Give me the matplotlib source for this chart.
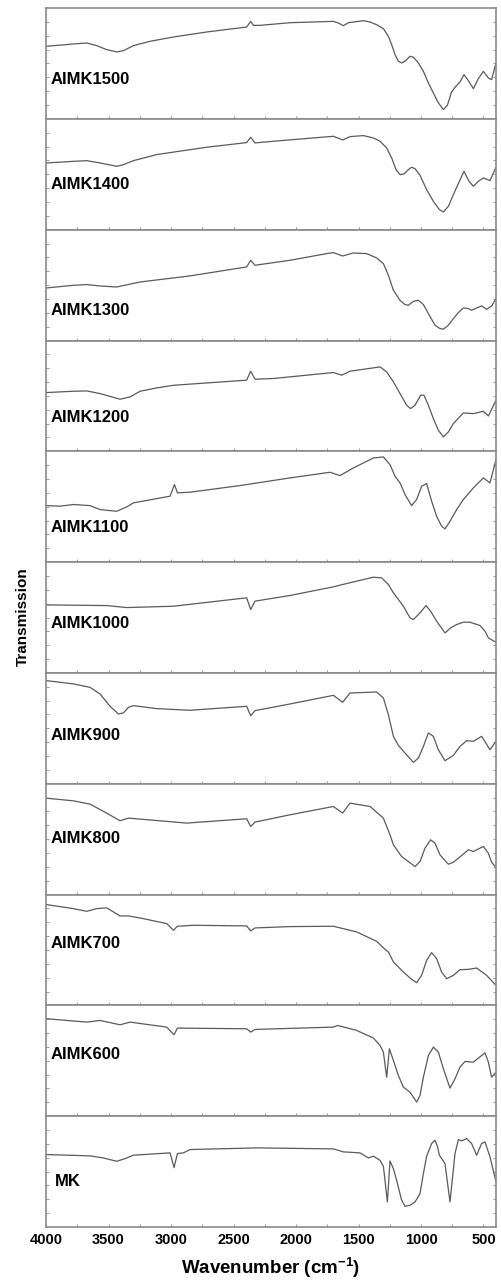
import matplotlib.pyplot as plt
from matplotlib.ticker import MultipleLocator, NullFormatter
import numpy as np

plt.rcParams['font.family'] = ['Liberation Sans', 'DejaVu Sans']
plt.rcParams['mathtext.fontset'] = 'custom'
plt.rcParams['mathtext.bf'] = 'Liberation Sans:bold'
plt.rcParams['mathtext.rm'] = 'Liberation Sans'

# Sample labels, top to bottom
samples = ['AIMK1500', 'AIMK1400', 'AIMK1300', 'AIMK1200', 'AIMK1100', 'AIMK1000',
           'AIMK900', 'AIMK800', 'AIMK700', 'AIMK600', 'MK']

# Spectra: wavenumber (cm-1) and transmission (panel units 0..1)
wn_1500 = [4000, 3781, 3675, 3595, 3515, 3435, 3381, 3301, 3168, 2981, 2715, 2395, 2363, 2341, 2288,
           2048, 1701, 1661, 1621, 1581, 1461, 1408, 1355, 1301, 1261, 1235, 1208, 1181, 1155, 1128,
           1088, 1061, 1021, 981, 941, 901, 861, 821, 789, 755, 728, 688, 656, 621, 581, 541, 501,
           461, 435, 400]
t_1500 = [0.655, 0.676, 0.685, 0.661, 0.625, 0.604, 0.616, 0.661, 0.700, 0.739, 0.784, 0.829, 0.880,
          0.844, 0.844, 0.868, 0.880, 0.865, 0.841, 0.868, 0.886, 0.874, 0.850, 0.814, 0.745, 0.670,
          0.580, 0.520, 0.505, 0.520, 0.565, 0.556, 0.505, 0.429, 0.324, 0.234, 0.144, 0.084, 0.123,
          0.243, 0.285, 0.333, 0.399, 0.345, 0.273, 0.363, 0.429, 0.369, 0.354, 0.505]

wn_1400 = [4000, 3781, 3675, 3568, 3435, 3381, 3301, 3115, 2715, 2395, 2363, 2328, 2181, 1701, 1627,
           1568, 1461, 1381, 1328, 1275, 1235, 1200, 1168, 1136, 1101, 1075, 1048, 1008, 955, 901,
           853, 821, 781, 741, 693, 656, 616, 581, 541, 501, 448, 400]
t_1400 = [0.602, 0.617, 0.623, 0.602, 0.572, 0.587, 0.623, 0.678, 0.744, 0.786, 0.834, 0.783, 0.798,
          0.843, 0.810, 0.840, 0.849, 0.828, 0.798, 0.738, 0.648, 0.542, 0.497, 0.503, 0.542, 0.563,
          0.551, 0.491, 0.361, 0.256, 0.181, 0.160, 0.211, 0.316, 0.437, 0.527, 0.437, 0.392, 0.437,
          0.467, 0.443, 0.563]

wn_1300 = [4000, 3781, 3675, 3568, 3435, 3248, 2848, 2395, 2363, 2328, 2048, 1755, 1701, 1627, 1541,
           1435, 1355, 1301, 1261, 1221, 1168, 1128, 1101, 1061, 1021, 981, 941, 888, 848, 821, 781,
           741, 701, 661, 621, 595, 555, 515, 475, 435, 400]
t_1300 = [0.474, 0.498, 0.505, 0.492, 0.483, 0.528, 0.583, 0.664, 0.724, 0.679, 0.724, 0.784, 0.793,
          0.763, 0.790, 0.784, 0.745, 0.694, 0.589, 0.453, 0.363, 0.324, 0.318, 0.354, 0.363, 0.324,
          0.243, 0.138, 0.108, 0.102, 0.138, 0.198, 0.252, 0.294, 0.288, 0.273, 0.294, 0.312, 0.282,
          0.312, 0.378]

wn_1200 = [4000, 3781, 3675, 3568, 3408, 3328, 3248, 3115, 2981, 2395, 2363, 2328, 2181, 1701, 1635,
           1568, 1381, 1328, 1275, 1221, 1168, 1115, 1083, 1048, 1003, 976, 941, 901, 861, 821, 781,
           741, 661, 581, 501, 461, 400]
t_1200 = [0.530, 0.542, 0.545, 0.521, 0.470, 0.491, 0.542, 0.572, 0.596, 0.642, 0.723, 0.651, 0.657,
          0.711, 0.687, 0.723, 0.753, 0.762, 0.717, 0.627, 0.521, 0.416, 0.386, 0.416, 0.506, 0.506,
          0.416, 0.295, 0.190, 0.130, 0.175, 0.250, 0.346, 0.340, 0.361, 0.319, 0.461]

wn_1100 = [4000, 3888, 3781, 3648, 3568, 3435, 3355, 3301, 3008, 2973, 2949, 2848, 2448, 2048, 1728,
           1648, 1541, 1381, 1301, 1248, 1208, 1168, 1128, 1075, 1035, 995, 955, 915, 875, 835, 808,
           768, 715, 661, 581, 501, 448, 400]
t_1100 = [0.510, 0.505, 0.520, 0.510, 0.474, 0.459, 0.498, 0.535, 0.595, 0.700, 0.625, 0.631, 0.691,
          0.760, 0.811, 0.781, 0.850, 0.940, 0.949, 0.880, 0.775, 0.715, 0.610, 0.510, 0.565, 0.685,
          0.709, 0.550, 0.414, 0.324, 0.300, 0.369, 0.474, 0.565, 0.670, 0.760, 0.715, 0.925]

wn_1000 = [4000, 3515, 3355, 2981, 2395, 2363, 2328, 2048, 1701, 1595, 1381, 1315, 1261, 1221, 1181,
           1141, 1088, 1061, 1008, 960, 923, 875, 808, 763, 715, 661, 608, 528, 488, 461, 400]
t_1000 = [0.614, 0.608, 0.590, 0.602, 0.678, 0.572, 0.648, 0.699, 0.777, 0.807, 0.864, 0.858, 0.798,
          0.723, 0.663, 0.602, 0.497, 0.482, 0.542, 0.608, 0.557, 0.467, 0.361, 0.407, 0.437, 0.458,
          0.458, 0.428, 0.377, 0.316, 0.277]

wn_900 = [4000, 3781, 3648, 3568, 3488, 3421, 3381, 3341, 3301, 3115, 2848, 2395, 2363, 2328, 2048,
          1701, 1627, 1568, 1355, 1301, 1261, 1221, 1181, 1128, 1061, 1021, 981, 941, 901, 861, 808,
          741, 688, 635, 581, 515, 448, 400]
t_900 = [0.931, 0.901, 0.870, 0.810, 0.699, 0.630, 0.639, 0.690, 0.705, 0.678, 0.663, 0.699, 0.614,
         0.660, 0.720, 0.798, 0.735, 0.819, 0.828, 0.774, 0.623, 0.428, 0.346, 0.277, 0.193, 0.232,
         0.337, 0.458, 0.428, 0.307, 0.208, 0.256, 0.337, 0.389, 0.383, 0.428, 0.307, 0.383]

wn_800 = [4000, 3781, 3648, 3515, 3408, 3341, 2875, 2395, 2363, 2328, 2048, 1701, 1627, 1568, 1408,
          1301, 1248, 1221, 1155, 1101, 1048, 1008, 968, 923, 888, 848, 781, 741, 701, 621, 581, 501,
          461, 435, 400]
t_800 = [0.870, 0.846, 0.816, 0.735, 0.666, 0.690, 0.645, 0.684, 0.614, 0.654, 0.720, 0.795, 0.735,
         0.825, 0.795, 0.690, 0.539, 0.449, 0.343, 0.298, 0.253, 0.298, 0.419, 0.494, 0.464, 0.358,
         0.274, 0.292, 0.328, 0.404, 0.389, 0.434, 0.373, 0.292, 0.244]

wn_700 = [4000, 3781, 3675, 3595, 3515, 3408, 3341, 3248, 3035, 2981, 2949, 2821, 2395, 2363, 2328,
          2048, 1701, 1515, 1355, 1288, 1261, 1221, 1141, 1075, 1035, 995, 955, 915, 875, 835, 795,
          741, 688, 621, 555, 475, 400]
t_700 = [0.910, 0.873, 0.849, 0.873, 0.880, 0.807, 0.807, 0.789, 0.738, 0.678, 0.714, 0.723, 0.717,
         0.672, 0.699, 0.711, 0.714, 0.663, 0.578, 0.506, 0.482, 0.392, 0.301, 0.235, 0.205, 0.271,
         0.407, 0.476, 0.422, 0.301, 0.241, 0.271, 0.322, 0.325, 0.337, 0.271, 0.181]

wn_600 = [4000, 3675, 3568, 3408, 3328, 3035, 2976, 2949, 2395, 2363, 2328, 1701, 1667, 1515, 1381,
          1328, 1301, 1275, 1253, 1221, 1181, 1141, 1088, 1035, 1008, 981, 941, 901, 861, 821, 768,
          728, 688, 648, 581, 488, 461, 435, 400]
t_600 = [0.880, 0.849, 0.864, 0.825, 0.849, 0.804, 0.735, 0.795, 0.789, 0.759, 0.783, 0.804, 0.819,
         0.774, 0.705, 0.639, 0.578, 0.352, 0.608, 0.503, 0.367, 0.262, 0.217, 0.127, 0.187, 0.352,
         0.548, 0.623, 0.578, 0.428, 0.253, 0.337, 0.443, 0.494, 0.488, 0.572, 0.488, 0.352, 0.398]

wn_mk = [4000, 3648, 3541, 3435, 3368, 3301, 3008, 2976, 2949, 2901, 2848, 2315, 1701, 1621, 1488,
         1421, 1381, 1328, 1301, 1269, 1248, 1221, 1195, 1155, 1128, 1088, 1048, 1008, 981, 955, 915,
         888, 869, 853, 808, 768, 728, 701, 675, 635, 595, 555, 515, 488, 448, 400]
t_mk = [0.654, 0.642, 0.623, 0.593, 0.617, 0.648, 0.669, 0.536, 0.663, 0.669, 0.699, 0.714, 0.705,
        0.678, 0.669, 0.623, 0.639, 0.602, 0.548, 0.226, 0.596, 0.527, 0.422, 0.241, 0.187, 0.196,
        0.226, 0.301, 0.482, 0.639, 0.753, 0.783, 0.729, 0.648, 0.572, 0.226, 0.663, 0.789, 0.777,
        0.798, 0.753, 0.648, 0.753, 0.768, 0.633, 0.407]

wavenumbers = [wn_1500, wn_1400, wn_1300, wn_1200, wn_1100, wn_1000, wn_900, wn_800, wn_700, wn_600, wn_mk]
transmissions = [t_1500, t_1400, t_1300, t_1200, t_1100, t_1000, t_900, t_800, t_700, t_600, t_mk]

# vertical position of each sample label (fraction of its panel)
label_y = [0.355, 0.407, 0.273, 0.304, 0.31, 0.45, 0.434, 0.51, 0.557, 0.554, 0.407]

spine_color = '#8a8a8a'
line_color = '#5a5a5a'

fig, axes = plt.subplots(len(samples), 1, figsize=(5.01, 12.8), dpi=100, sharex=True)
fig.subplots_adjust(left=0.092, right=0.990, top=0.9937, bottom=0.0414, hspace=0)

for i, ax in enumerate(axes):
    ax.plot(wavenumbers[i], transmissions[i], color=line_color, linewidth=0.9)
    ax.set_xlim(4000, 400)
    ax.set_ylim(0, 1)
    ax.set_yticks(np.arange(1, 8) / 8)
    ax.yaxis.set_major_formatter(NullFormatter())
    ax.xaxis.set_major_locator(MultipleLocator(500))
    ax.xaxis.set_minor_locator(MultipleLocator(250))
    ax.tick_params(axis='y', direction='in', length=2.5, width=0.6, color=spine_color,
                   left=True, right=True)
    ax.tick_params(axis='x', which='both', direction='in', length=2.5, width=0.6,
                   color=spine_color, top=False)
    for s in ax.spines.values():
        s.set_color(spine_color)
        s.set_linewidth(1.2)
    lx = 0.02 if samples[i] == 'MK' else 0.01
    ax.text(lx, label_y[i], samples[i], transform=ax.transAxes, fontsize=12,
            fontweight='bold', va='center', ha='left')

bottom = axes[-1]
bottom.set_xticks([4000, 3500, 3000, 2500, 2000, 1500, 1000, 500])
bottom.set_xticklabels(['4000', '3500', '3000', '2500', '2000', '1500', '1000', '500'],
                       fontsize=10.5, fontweight='bold')
bottom.tick_params(axis='x', which='major', pad=4)
bottom.set_xlabel('Wavenumber (cm$^{\\mathbf{-1}}$)', fontsize=13.5, fontweight='bold', labelpad=6)

fig.text(0.045, 0.518, 'Transmission', rotation=90, fontsize=11, fontweight='bold',
         va='center', ha='center')

plt.savefig('out.png', dpi=100)
